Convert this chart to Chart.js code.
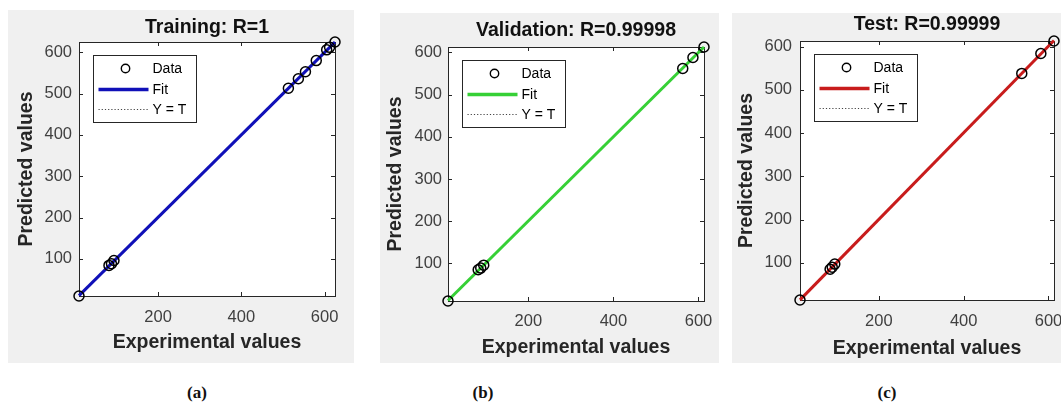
<!DOCTYPE html>
<html><head><meta charset="utf-8">
<script src="https://cdn.jsdelivr.net/npm/chart.js@4.4.1/dist/chart.umd.min.js"></script>
<style>
html,body{margin:0;padding:0;background:#fff;}
body{width:1061px;height:403px;position:relative;overflow:hidden;}
.panel{position:absolute;background:#f0f0f0;}
.panel canvas{display:block;}
.cap{position:absolute;font-family:"Liberation Serif","DejaVu Serif",serif;font-weight:bold;font-size:17px;line-height:20px;color:#111;transform:translateX(-50%);}
</style></head><body>
<div class="panel" style="left:8px;top:10px;width:346px;height:353px"><canvas id="ca" width="346" height="353"></canvas></div>
<div class="panel" style="left:380px;top:13px;width:339px;height:350px"><canvas id="cb" width="339" height="350"></canvas></div>
<div class="panel" style="left:732px;top:13px;width:329px;height:350px"><canvas id="cc" width="329" height="350"></canvas></div>
<div class="cap" style="left:197px;top:383px">(a)</div>
<div class="cap" style="left:483px;top:383px">(b)</div>
<div class="cap" style="left:887px;top:383px">(c)</div>
<script>
// ---- data ----
const xTickValues = [200, 400, 600];
const yTickValues = [100, 200, 300, 400, 500, 600];
const trainTargets = [10, 82, 88, 94, 513, 537, 554, 580, 605, 612, 625];
const trainOutputs = [10, 84, 88, 96, 513, 536, 553, 580, 606, 612, 625];
const valTargets = [11, 82, 88, 95, 563, 587, 613];
const valOutputs = [11, 85, 89, 96, 562, 588, 613];
const testTargets = [14, 85, 90, 96, 537, 582, 613];
const testOutputs = [14, 85, 90, 97, 538, 584, 613];
const panelTitles = ["Training: R=1", "Validation: R=0.99998", "Test: R=0.99999"];
const legendLabels = ["Data", "Fit", "Y = T"];
const xAxisTitle = "Experimental values";
const yAxisTitle = "Predicted values";

const SANS = '"Liberation Sans", Arial, sans-serif';

function linFit(t, o) {
  const n = t.length;
  const mt = t.reduce((a, b) => a + b, 0) / n;
  const mo = o.reduce((a, b) => a + b, 0) / n;
  let sxy = 0, sxx = 0;
  for (let i = 0; i < n; i++) { sxy += (t[i] - mt) * (o[i] - mo); sxx += (t[i] - mt) ** 2; }
  const a = sxy / sxx;
  return [a, mo - a * mt];
}

const matlabPlugin = {
  id: 'matlabAxes',
  beforeDraw(chart) {
    const { ctx, chartArea: ca } = chart;
    ctx.save();
    ctx.fillStyle = '#ffffff';
    ctx.fillRect(ca.left, ca.top, ca.right - ca.left, ca.bottom - ca.top);
    ctx.restore();
  },
  beforeDatasetsDraw(chart) {
    const { ctx, chartArea: ca, scales } = chart;
    const L = 4;
    ctx.save();
    ctx.strokeStyle = '#262626';
    ctx.lineWidth = 1;
    ctx.strokeRect(Math.round(ca.left) + 0.5, Math.round(ca.top) + 0.5,
      Math.round(ca.right - ca.left), Math.round(ca.bottom - ca.top));
    ctx.beginPath();
    xTickValues.forEach(v => {
      const px = Math.round(scales.x.getPixelForValue(v)) + 0.5;
      ctx.moveTo(px, ca.bottom); ctx.lineTo(px, ca.bottom - L);
      ctx.moveTo(px, ca.top); ctx.lineTo(px, ca.top + L);
    });
    yTickValues.forEach(v => {
      const py = Math.round(scales.y.getPixelForValue(v)) + 0.5;
      ctx.moveTo(ca.left, py); ctx.lineTo(ca.left + L, py);
      ctx.moveTo(ca.right, py); ctx.lineTo(ca.right - L, py);
    });
    ctx.stroke();
    ctx.restore();
  },
  afterDraw(chart) {
    const { ctx, chartArea: ca } = chart;
    const lg = chart.options.plugins.matlabAxes;
    const bx = Math.round(ca.left + 14) + 0.5, by = Math.round(ca.top + 13) + 0.5;
    const bw = 103, bh = 67;
    ctx.save();
    ctx.fillStyle = '#ffffff';
    ctx.fillRect(bx, by, bw, bh);
    ctx.strokeStyle = '#262626';
    ctx.lineWidth = 1;
    ctx.strokeRect(bx, by, bw, bh);
    const rows = [13, 34, 54];
    ctx.beginPath();
    ctx.arc(bx + 32, by + rows[0], 4.2, 0, Math.PI * 2);
    ctx.strokeStyle = '#000';
    ctx.lineWidth = 1.4;
    ctx.stroke();
    ctx.beginPath();
    ctx.moveTo(bx + 5, by + rows[1]); ctx.lineTo(bx + 55, by + rows[1]);
    ctx.strokeStyle = lg.color; ctx.lineWidth = 3.5; ctx.stroke();
    ctx.beginPath();
    ctx.setLineDash([1.2, 2]);
    ctx.moveTo(bx + 5, by + rows[2]); ctx.lineTo(bx + 55, by + rows[2]);
    ctx.strokeStyle = '#444'; ctx.lineWidth = 1; ctx.stroke();
    ctx.setLineDash([]);
    ctx.fillStyle = '#000';
    ctx.font = '14px ' + SANS;
    ctx.textBaseline = 'middle';
    ctx.textAlign = 'left';
    chart.data.datasets.forEach((d, i) => ctx.fillText(d.label, bx + 59, by + rows[i] + 1));
    ctx.restore();
  }
};

function makePanel(id, targets, outputs, title, color, m) {
  const all = targets.concat(outputs);
  const lo = Math.min(...all), hi = Math.max(...all);
  const [a, b] = linFit(targets, outputs);
  new Chart(document.getElementById(id), {
    type: 'scatter',
    data: {
      datasets: [
        { label: legendLabels[0], data: targets.map((t, i) => ({ x: t, y: outputs[i] })),
          pointStyle: 'circle', pointRadius: 5, pointBackgroundColor: 'rgba(0,0,0,0)',
          pointBorderColor: '#000', pointBorderWidth: 1.5, showLine: false, clip: false },
        { type: 'line', label: legendLabels[1], data: [{ x: lo, y: a * lo + b }, { x: hi, y: a * hi + b }],
          borderColor: color, borderWidth: 3, pointRadius: 0, fill: false, clip: false },
        { type: 'line', label: legendLabels[2], data: [{ x: lo, y: lo }, { x: hi, y: hi }],
          borderColor: '#444', borderWidth: 1, borderDash: [1.2, 2], pointRadius: 0, fill: false }
      ]
    },
    options: {
      responsive: false, animation: false,
      layout: { padding: { left: 0, right: m.right, top: 0, bottom: 0 } },
      plugins: {
        legend: { display: false }, tooltip: { enabled: false },
        title: { display: true, text: title, fullSize: false, color: '#111',
          font: { family: SANS, size: 19.5, weight: 'bold', lineHeight: 1 },
          padding: { top: m.tTop, bottom: m.top - 19.5 - m.tTop } },
        matlabAxes: { color: color }
      },
      scales: {
        x: {
          type: 'linear', min: lo, max: hi,
          afterBuildTicks: s => { s.ticks = xTickValues.map(v => ({ value: v })); },
          afterFit: s => { s.height = m.bottom; s.paddingLeft = 0; s.paddingRight = 0; },
          grid: { display: false, drawTicks: false }, border: { display: false },
          ticks: { color: '#404040', font: { family: SANS, size: 16.5 }, padding: m.xtp, maxRotation: 0 },
          title: { display: true, text: xAxisTitle, color: '#262626',
            font: { family: SANS, size: 19.5, weight: 'bold', lineHeight: 1.2 },
            padding: { top: 0, bottom: m.xt } }
        },
        y: {
          type: 'linear', min: lo, max: hi,
          afterBuildTicks: s => { s.ticks = yTickValues.map(v => ({ value: v })); },
          afterFit: s => { s.width = m.left; s.paddingTop = 0; s.paddingBottom = 0; },
          grid: { display: false, drawTicks: false }, border: { display: false },
          ticks: { color: '#404040', font: { family: SANS, size: 16.5 }, padding: m.ytp },
          title: { display: true, text: yAxisTitle, color: '#262626',
            font: { family: SANS, size: 19.5, weight: 'bold', lineHeight: 1.2 },
            padding: { top: m.yt, bottom: 0 } }
        }
      }
    },
    plugins: [matlabPlugin]
  });
}

makePanel('ca', trainTargets, trainOutputs, panelTitles[0], '#1010b8',
  { left: 71, right: 19, top: 32, bottom: 67, tTop: 8, xt: 9, yt: 7, xtp: 12, ytp: 7 });
makePanel('cb', valTargets, valOutputs, panelTitles[1], '#36d036',
  { left: 68, right: 15, top: 34, bottom: 62, tTop: 8, xt: 4, yt: 4, xtp: 11, ytp: 6 });
makePanel('cc', testTargets, testOutputs, panelTitles[2], '#c81c1c',
  { left: 68, right: 7, top: 28, bottom: 63, tTop: 2, xt: 3, yt: 3, xtp: 12, ytp: 8 });
</script>
</body></html>
